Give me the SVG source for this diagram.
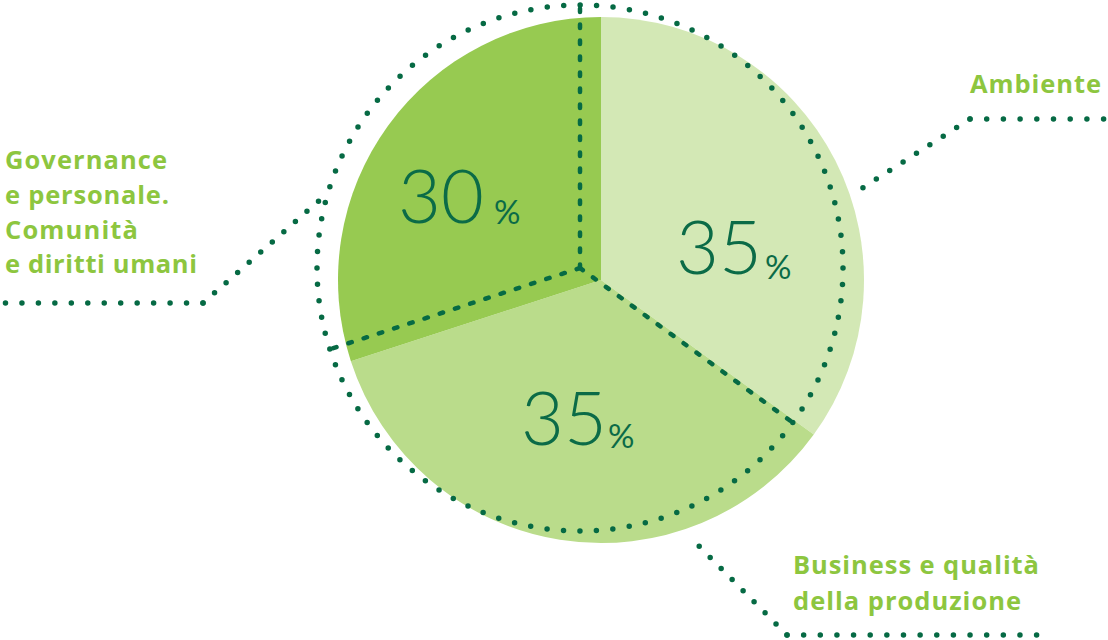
<svg xmlns="http://www.w3.org/2000/svg" width="1108" height="640" viewBox="0 0 1108 640">
  <style>
    .lbl { font-family: "Open Sans", "Liberation Sans", sans-serif; font-weight: 700; font-size: 25.5px; fill: #8dc63f; }
    .num { font-family: Lato, "Open Sans", sans-serif; font-weight: 300; font-size: 74px; fill: #0b6b47; }
    .pct { font-family: Lato, "Open Sans", sans-serif; font-weight: 400; font-size: 33px; fill: #0b6b47; }
    .dot { fill: none; stroke: #066a44; stroke-width: 5.5; stroke-linecap: round; stroke-dasharray: 0 16.4; }
    .dash { fill: none; stroke: #066a44; stroke-width: 4.5; stroke-linecap: round; stroke-dasharray: 3.5 12.5; }
  </style>
  <rect width="1108" height="640" fill="#ffffff"/>
  <g id="pie">
    <path id="slice-ambiente" d="M601,280 L601,17 A263,263 0 0 1 813.77,434.59 Z" fill="#d3e8b5"/>
    <path id="slice-business" d="M601,280 L813.77,434.59 A263,263 0 0 1 350.87,361.27 Z" fill="#badc8b"/>
    <path id="slice-governance" d="M601,280 L350.87,361.27 A263,263 0 0 1 601,17 Z" fill="#97ca51"/>
  </g>
  <g id="connectors">
    <circle cx="580" cy="268" r="263" class="dot" style="stroke-dasharray:0 16.52"/>
    <line x1="580" y1="268" x2="580" y2="5" class="dash"/>
    <line x1="580" y1="268" x2="329.87" y2="349.27" class="dash"/>
    <line x1="580" y1="268" x2="792.77" y2="422.59" class="dash"/>
    <line x1="970" y1="119" x2="1104" y2="119" class="dot" style="stroke-dasharray:0 16.7"/>
    <line x1="970" y1="119" x2="850" y2="196" class="dot" style="stroke-dasharray:0 15.9"/>
    <line x1="203" y1="303" x2="5" y2="303" class="dot" style="stroke-dasharray:0 16.46"/>
    <line x1="203" y1="303" x2="330" y2="191" class="dot" style="stroke-dasharray:0 15.4"/>
    <line x1="787" y1="635" x2="1037" y2="635" class="dot" style="stroke-dasharray:0 16.64"/>
    <line x1="787" y1="635" x2="690" y2="537" class="dot" style="stroke-dasharray:0 15.6"/>
  </g>
  <g id="node-governance">
    <text class="num" x="398" y="223">30</text>
    <text class="pct" x="494" y="224">%</text>
    <text class="lbl" x="5" y="169" textLength="162" lengthAdjust="spacing">Governance</text>
    <text class="lbl" x="5" y="204" textLength="164" lengthAdjust="spacing">e personale.</text>
    <text class="lbl" x="5" y="239" textLength="133" lengthAdjust="spacing">Comunità</text>
    <text class="lbl" x="5" y="273" textLength="192" lengthAdjust="spacing">e diritti umani</text>
  </g>
  <g id="node-ambiente">
    <text class="num" x="676" y="274">35</text>
    <text class="pct" x="765" y="279">%</text>
    <text class="lbl" x="970" y="93" textLength="131" lengthAdjust="spacing">Ambiente</text>
  </g>
  <g id="node-business">
    <text class="num" x="521" y="445">35</text>
    <text class="pct" x="608" y="448">%</text>
    <text class="lbl" x="793" y="574" textLength="246" lengthAdjust="spacing">Business e qualità</text>
    <text class="lbl" x="793" y="610" textLength="228" lengthAdjust="spacing">della produzione</text>
  </g>
</svg>
